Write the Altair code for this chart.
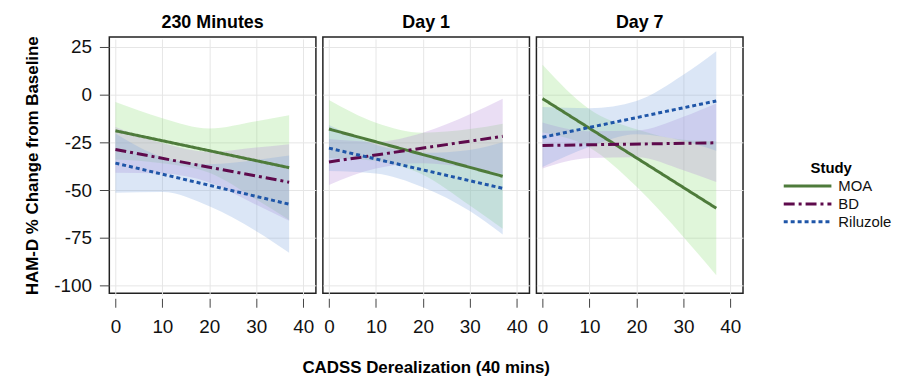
import altair as alt
import pandas as pd

panels = ["230 Minutes", "Day 1", "Day 7"]
studies = ["MOA", "BD", "Riluzole"]

line_x = [0, 37]
band_x = [0, 10, 20, 30, 37]

# fitted lines (value at x=0 and x=37)
moa_230_line = [-19.0, -38.3]
bd_230_line = [-28.8, -45.9]
ril_230_line = [-35.9, -57.4]
moa_d1_line = [-18.1, -42.8]
bd_d1_line = [-35.3, -21.9]
ril_d1_line = [-28.1, -49.1]
moa_d7_line = [-2.2, -59.5]
bd_d7_line = [-26.7, -25.3]
ril_d7_line = [-22.4, -3.4]

# confidence bands at band_x
moa_230_hi = [-4.0, -12.4, -17.8, -14.0, -10.9]
moa_230_lo = [-34.0, -36.0, -41.0, -55.0, -65.7]
bd_230_hi = [-17.0, -25.4, -30.0, -27.7, -26.0]
bd_230_lo = [-41.0, -41.4, -46.0, -57.7, -66.0]
ril_230_hi = [-20.4, -32.7, -36.5, -34.3, -32.0]
ril_230_lo = [-51.4, -51.0, -58.5, -71.5, -82.8]

moa_d1_hi = [-2.9, -14.8, -20.0, -18.1, -15.3]
moa_d1_lo = [-33.3, -34.8, -42.0, -58.1, -70.3]
bd_d1_hi = [-23.3, -24.7, -20.0, -10.4, -2.2]
bd_d1_lo = [-47.3, -38.7, -36.0, -38.4, -41.6]
ril_d1_hi = [-16.0, -26.3, -30.5, -29.0, -25.0]
ril_d1_lo = [-40.0, -41.3, -48.5, -61.0, -73.3]

moa_d7_hi = [15.5, -7.7, -18.2, -23.7, -24.5]
moa_d7_lo = [-19.9, -27.7, -48.2, -74.5, -94.5]
bd_d7_hi = [-14.7, -19.3, -18.9, -11.7, -4.8]
bd_d7_lo = [-38.7, -33.3, -32.9, -39.7, -45.8]
ril_d7_hi = [-6.6, -7.2, -3.4, 10.3, 22.6]
ril_d7_lo = [-38.0, -27.4, -20.8, -24.3, -29.4]

lines = {
    ("230 Minutes", "MOA"): moa_230_line, ("230 Minutes", "BD"): bd_230_line, ("230 Minutes", "Riluzole"): ril_230_line,
    ("Day 1", "MOA"): moa_d1_line, ("Day 1", "BD"): bd_d1_line, ("Day 1", "Riluzole"): ril_d1_line,
    ("Day 7", "MOA"): moa_d7_line, ("Day 7", "BD"): bd_d7_line, ("Day 7", "Riluzole"): ril_d7_line,
}
bands = {
    ("230 Minutes", "MOA"): (moa_230_lo, moa_230_hi), ("230 Minutes", "BD"): (bd_230_lo, bd_230_hi),
    ("230 Minutes", "Riluzole"): (ril_230_lo, ril_230_hi),
    ("Day 1", "MOA"): (moa_d1_lo, moa_d1_hi), ("Day 1", "BD"): (bd_d1_lo, bd_d1_hi),
    ("Day 1", "Riluzole"): (ril_d1_lo, ril_d1_hi),
    ("Day 7", "MOA"): (moa_d7_lo, moa_d7_hi), ("Day 7", "BD"): (bd_d7_lo, bd_d7_hi),
    ("Day 7", "Riluzole"): (ril_d7_lo, ril_d7_hi),
}

rows = []
for (p, s), ys in lines.items():
    for xv, yv in zip(line_x, ys):
        rows.append({"kind": "line", "panel": p, "study": s, "band": "", "x": xv, "y": yv, "lo": 0.0, "hi": 0.0})
for (p, s), (lo, hi) in bands.items():
    for xv, l, h in zip(band_x, lo, hi):
        rows.append({"kind": "band", "panel": p, "study": "", "band": s, "x": xv, "y": 0.0, "lo": l, "hi": h})
df = pd.DataFrame(rows)
legend_df = pd.DataFrame({"study": studies})
legend_title_df = pd.DataFrame({"t": ["Study"]})

line_colors = ["#4E7B3B", "#5E0A4C", "#1F56A8"]
band_colors = ["#8FE07A", "#B48AD8", "#7FA6E0"]
dashes = [[1, 0], [11, 4, 3, 4], [4, 3]]

FONT = "Liberation Sans"

stroke_scale = alt.Scale(domain=studies, range=line_colors)
dash_scale = alt.Scale(domain=studies, range=dashes)

xenc = alt.X("x:Q", scale=alt.Scale(domain=[-1.3, 42.7], nice=False, zero=False),
             axis=alt.Axis(values=[0, 10, 20, 30, 40], title=None))

area = alt.Chart().transform_filter(alt.datum.kind == "band").mark_area(
    opacity=0.28, interpolate="monotone").encode(
    x=xenc,
    y=alt.Y("lo:Q", scale=alt.Scale(domain=[-104, 30], nice=False, zero=False),
            axis=alt.Axis(values=[-100, -75, -50, -25, 0, 25], title="HAM-D % Change from Baseline",
                          labelExpr="'' + datum.value", titlePadding=12)),
    y2="hi:Q",
    fill=alt.Fill("band:N", scale=alt.Scale(domain=studies, range=band_colors), legend=None),
)

line = alt.Chart().transform_filter(alt.datum.kind == "line").mark_line(strokeWidth=3).encode(
    x=xenc,
    y=alt.Y("y:Q"),
    stroke=alt.Stroke("study:N", scale=stroke_scale, legend=None),
    strokeDash=alt.StrokeDash("study:N", scale=dash_scale, legend=None),
)

panels_chart = alt.layer(area, line, data=df).properties(width=208, height=258).facet(
    column=alt.Column("panel:N", sort=panels,
                      header=alt.Header(title="CADSS Derealization (40 mins)", titleOrient="bottom",
                                        titleFont=FONT, titleFontSize=17, titleFontWeight="bold",
                                        titleColor="#000", titlePadding=14,
                                        labelOrient="top", labelFontWeight="bold", labelFontSize=18,
                                        labelFont=FONT, labelColor="#000", labelPadding=4)),
    spacing=5,
)

# legend panel built from the study list
ly = alt.Y("study:N", sort=studies, axis=None,
           scale=alt.Scale(type="point", domain=studies, range=[150, 186], padding=0))
leg_lines = alt.Chart(legend_df).mark_rule(strokeWidth=3).encode(
    x=alt.value(30), x2=alt.value(78), y=ly,
    stroke=alt.Stroke("study:N", scale=stroke_scale, legend=None),
    strokeDash=alt.StrokeDash("study:N", scale=dash_scale, legend=None),
)
leg_text = alt.Chart(legend_df).mark_text(align="left", baseline="middle", font=FONT,
                                          fontSize=15, color="#111").encode(
    x=alt.value(85), y=ly, text="study:N")
leg_title = alt.Chart(legend_title_df).mark_text(align="left", baseline="middle", font=FONT,
                                                 fontSize=15, fontWeight="bold", color="#000").encode(
    x=alt.value(57), y=alt.value(132), text="t:N")
legend_chart = alt.layer(leg_lines, leg_text, leg_title).properties(
    width=140, height=300, view=alt.ViewBackground(strokeWidth=0, stroke="transparent"))

chart = alt.hconcat(panels_chart, legend_chart, spacing=10).configure_view(
    stroke="#222", strokeWidth=1.5).configure_axis(
    labelFont=FONT, titleFont=FONT, labelFontSize=19, labelColor="#111",
    titleFontSize=17, titleFontWeight="bold", titleColor="#000",
    gridColor="#E6E6E6", gridWidth=1, tickColor="#444", tickSize=9, domain=False,
    labelPadding=8,
).configure_axisX(offset=2, labelPadding=10).properties(
    padding={"left": 15, "top": 5, "right": 0, "bottom": 0})

chart.save("out.html", embed_options={"renderer": "svg", "actions": False})
